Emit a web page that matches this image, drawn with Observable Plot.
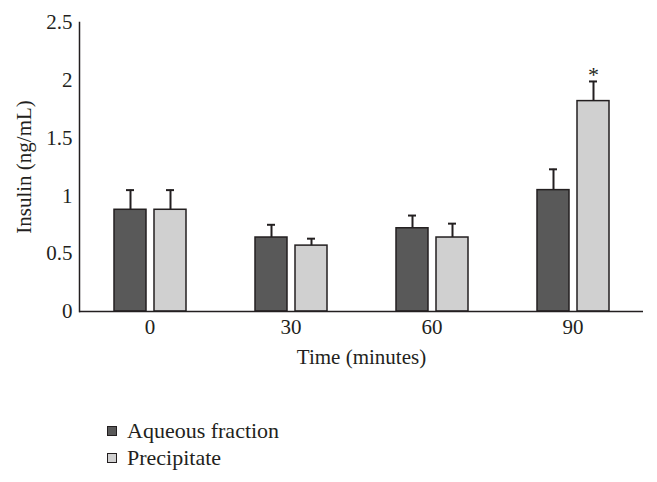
<!DOCTYPE html>
<html>
<head>
<meta charset="utf-8">
<script src="https://cdn.jsdelivr.net/npm/d3@7"></script>
<script src="https://cdn.jsdelivr.net/npm/@observablehq/plot@0.6"></script>
<style>
  body { margin: 0; background: #fff; font-family: "Liberation Serif", serif; }
  svg { display: block; }
  #legend { margin-left: 107px; margin-top: 37px; color: #231f20; font-size: 22px; }
  .item { display: flex; align-items: center; height: 27px; }
  .sw { width: 8px; height: 8px; border: 1.5px solid #231f20; margin-right: 10px; }
</style>
</head>
<body>
<div id="chart"></div>
<div id="legend"></div>
<script>
const times = ["0", "30", "60", "90"];
const seriesNames = ["Aqueous fraction", "Precipitate"];
const seriesColors = ["#595959", "#d0d0d0"];
const aqueous = [0.88, 0.64, 0.72, 1.05];
const aqueousErr = [0.17, 0.11, 0.11, 0.18];
const precipitate = [0.88, 0.57, 0.64, 1.82];
const precipitateErr = [0.17, 0.06, 0.12, 0.17];
const precipitateSig = ["", "", "", "*"];
const yTicks = [0, 0.5, 1, 1.5, 2, 2.5];

const aq = times.map((t, i) => ({time: t, value: aqueous[i], top: aqueous[i] + aqueousErr[i]}));
const pr = times.map((t, i) => ({time: t, value: precipitate[i], top: precipitate[i] + precipitateErr[i], sig: precipitateSig[i]}));

const ink = "#231f20";
const chart = Plot.plot({
  width: 657,
  height: 380,
  marginLeft: 79,
  marginRight: 14,
  marginTop: 22,
  marginBottom: 69,
  style: {fontFamily: "Liberation Serif", fontSize: "21px", color: ink, background: "#fff"},
  x: {domain: times, padding: 0},
  y: {domain: [0, 2.5]},
  marks: [
    Plot.barY(aq, {x: "time", y: "value", fill: seriesColors[0], stroke: ink, strokeWidth: 1.5, insetLeft: 35, insetRight: 74}),
    Plot.barY(pr, {x: "time", y: "value", fill: seriesColors[1], stroke: ink, strokeWidth: 1.5, insetLeft: 75, insetRight: 34}),
    Plot.ruleX(aq, {x: "time", y1: "value", y2: "top", dx: -19.5, stroke: ink, strokeWidth: 2}),
    Plot.ruleX(pr, {x: "time", y1: "value", y2: "top", dx: 20.5, stroke: ink, strokeWidth: 2}),
    Plot.tickY(aq, {x: "time", y: "top", insetLeft: 47, insetRight: 86, stroke: ink, strokeWidth: 2}),
    Plot.tickY(pr, {x: "time", y: "top", insetLeft: 87, insetRight: 46, stroke: ink, strokeWidth: 2}),
    Plot.text(pr, {x: "time", y: "top", text: "sig", dx: 20.5, dy: 1, lineAnchor: "bottom", fontSize: 22, fill: ink}),
    Plot.ruleY([0], {stroke: ink, strokeWidth: 1.5}),
    Plot.frame({anchor: "left", stroke: ink, strokeWidth: 1.5}),
    Plot.axisY({ticks: yTicks, tickFormat: d => String(d), tickSize: 0, tickPadding: 7, label: "Insulin (ng/mL)", labelAnchor: "center", labelArrow: "none", labelOffset: 63, fontSize: 21, fill: ink}),
    Plot.axisX({tickSize: 0, tickPadding: 8, label: "Time (minutes)", labelAnchor: "center", labelArrow: "none", labelOffset: 52, fontSize: 21, fill: ink})
  ]
});
document.getElementById("chart").appendChild(chart);

const legend = document.getElementById("legend");
seriesNames.forEach((name, i) => {
  const item = document.createElement("div");
  item.className = "item";
  const sw = document.createElement("span");
  sw.className = "sw";
  sw.style.background = seriesColors[i];
  const label = document.createElement("span");
  label.textContent = name;
  item.appendChild(sw);
  item.appendChild(label);
  legend.appendChild(item);
});
</script>
</body>
</html>
